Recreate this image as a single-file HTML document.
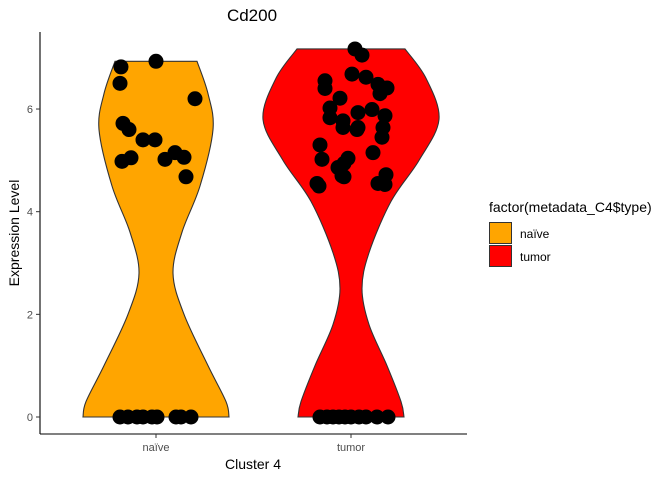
<!DOCTYPE html>
<html><head><meta charset="utf-8"><style>
body{margin:0;background:#fff}
svg{font-family:"Liberation Sans",sans-serif;display:block}
</style></head><body>
<svg id="c" width="672" height="480" xmlns="http://www.w3.org/2000/svg">
<text x="252" y="21" font-size="17" text-anchor="middle">Cd200</text>
<g id="plot"></g>
<line x1="40" y1="32" x2="40" y2="434" stroke="#000" stroke-width="1.1"/>
<line x1="40" y1="434" x2="467" y2="434" stroke="#000" stroke-width="1.1"/>
<g id="axes"></g>
<text x="253" y="469" font-size="14" text-anchor="middle">Cluster 4</text>
<text transform="translate(19,233) rotate(-90)" font-size="14" text-anchor="middle">Expression Level</text>
<g>
<text x="489" y="212" font-size="14">factor(metadata_C4$type)</text>
<rect x="489.5" y="222.5" width="22" height="21" fill="#FFA500" stroke="#333"/>
<text x="520" y="238" font-size="12">naïve</text>
<rect x="489.5" y="245.5" width="22" height="21" fill="#FF0000" stroke="#333"/>
<text x="520" y="261" font-size="12">tumor</text>
</g>
</svg>
<script>
const categories=["naïve","tumor"];
const colors=["#FFA500","#FF0000"];
const yTicks=[0,2,4,6];
// violin outline: values and half-widths (px) at those values
const naiveDensY=[0,0.3,1.0,2.0,2.8,3.6,4.5,5.6,6.3,6.93];
const naiveDensW=[73,70,52,28,17,26,44,57,52,41];
const tumorDensY=[0,0.3,1.0,1.8,2.5,3.2,4.2,5.0,5.8,6.6,7.17];
const tumorDensW=[53,50,36,18,11,18,40,68,88,75,54];
const naiveVals=[0,0,0,0,0,0,0,0,0,6.82,6.93,6.5,6.2,5.72,5.6,5.4,5.4,4.98,5.05,5.02,5.15,5.06,4.68];
const naiveJit=[-36,-28,-19,-13,-4,1,20,25,35,-35,0,-36,39,-33,-27,-13,-1,-34,-25,9,19,28,30];
const tumorVals=[0,0,0,0,0,0,0,0,0,0,7.17,7.05,6.55,6.4,6.68,6.62,6.48,6.3,6.41,6.21,6.02,5.83,5.93,5.99,5.87,5.64,5.6,5.77,5.45,5.3,5.64,5.64,5.02,5.04,4.86,4.94,4.68,5.15,4.7,4.55,4.5,4.55,4.53,4.72];
const tumorJit=[-31,-24,-18,-12,-6,0,8,15,26,37,4,11,-26,-26,1,15,27,29,36,-11,-21,-21,7,21,34,32,6,-8,31,-31,-8,7,-29,-3,-13,-7,-7,22,-9,-34,-32,27,34,35];
const X=i=>156+i*195, Y=v=>417-v*51.33;
const ns="http://www.w3.org/2000/svg";
const plot=document.getElementById('plot'), axes=document.getElementById('axes');
function violinPath(cx,ys,ws){
  const right=ys.map((y,i)=>[cx+ws[i],Y(y)]);
  const left=ys.map((y,i)=>[cx-ws[i],Y(y)]).reverse();
  function curve(pts){let d='';for(let i=0;i<pts.length-1;i++){const p0=pts[Math.max(i-1,0)],p1=pts[i],p2=pts[i+1],p3=pts[Math.min(i+2,pts.length-1)];
    d+=` C${p1[0]+(p2[0]-p0[0])/6},${p1[1]+(p2[1]-p0[1])/6} ${p2[0]-(p3[0]-p1[0])/6},${p2[1]-(p3[1]-p1[1])/6} ${p2[0]},${p2[1]}`;}return d;}
  return `M${left[left.length-1][0]},${left[left.length-1][1]} L${right[0][0]},${right[0][1]}`+curve(right)+` L${left[0][0]},${left[0][1]}`+curve(left)+'Z';
}
[[naiveDensY,naiveDensW],[tumorDensY,tumorDensW]].forEach((d,i)=>{
  const p=document.createElementNS(ns,'path');
  p.setAttribute('d',violinPath(X(i),d[0],d[1]));
  p.setAttribute('fill',colors[i]);p.setAttribute('stroke','#333');p.setAttribute('stroke-width','1.1');
  
  
  plot.appendChild(p);
});
[[naiveVals,naiveJit],[tumorVals,tumorJit]].forEach((d,i)=>{
  d[0].forEach((v,k)=>{
    const c=document.createElementNS(ns,'circle');
    c.setAttribute('cx',X(i)+d[1][k]);c.setAttribute('cy',Y(v));c.setAttribute('r',7.5);c.setAttribute('fill','#000');
    
    
    plot.appendChild(c);
  });
});
yTicks.forEach(t=>{
  const l=document.createElementNS(ns,'line');
  l.setAttribute('x1',36);l.setAttribute('x2',40);l.setAttribute('y1',Y(t));l.setAttribute('y2',Y(t));l.setAttribute('stroke','#333');
  
  
  axes.appendChild(l);
  const tx=document.createElementNS(ns,'text');
  tx.setAttribute('x',33);tx.setAttribute('y',Y(t)+4);tx.setAttribute('font-size','11');tx.setAttribute('fill','#4d4d4d');tx.setAttribute('text-anchor','end');
  tx.textContent=t;
  
  
  axes.appendChild(tx);
});
categories.forEach((c,i)=>{
  const l=document.createElementNS(ns,'line');
  l.setAttribute('x1',X(i));l.setAttribute('x2',X(i));l.setAttribute('y1',434);l.setAttribute('y2',438);l.setAttribute('stroke','#333');
  
  
  axes.appendChild(l);
  const tx=document.createElementNS(ns,'text');
  tx.setAttribute('x',X(i));tx.setAttribute('y',451);tx.setAttribute('font-size','11');tx.setAttribute('fill','#4d4d4d');tx.setAttribute('text-anchor','middle');
  tx.textContent=c;
  
  
  axes.appendChild(tx);
});
</script>
</body></html>
